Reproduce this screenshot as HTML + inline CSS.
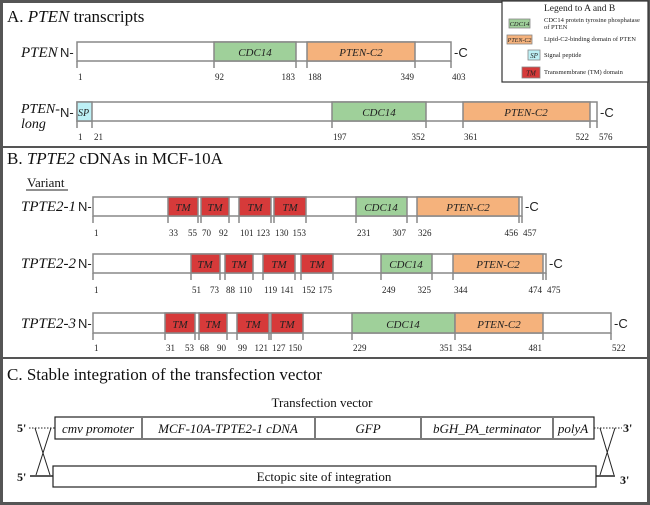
<!DOCTYPE html>
<html><head><meta charset="utf-8"><style>
html,body{margin:0;padding:0;background:#fff}
svg{display:block}
.n{font-family:"Liberation Serif",serif;font-size:9px;fill:#222}
.d{font-family:"Liberation Serif",serif;font-style:italic;font-size:11px;fill:#222}
.s{font-family:"Liberation Sans",sans-serif;font-size:13px;fill:#222}
.t{font-family:"Liberation Serif",serif;font-size:17px;fill:#111}
.l{font-family:"Liberation Serif",serif;font-style:italic;font-size:15px;fill:#111}
.g{font-family:"Liberation Serif",serif;font-size:6.5px;fill:#222}
.gd{font-family:"Liberation Serif",serif;font-style:italic;font-size:7px;fill:#222}
.v{font-family:"Liberation Serif",serif;font-style:italic;font-size:13px;fill:#111}
.m{font-family:"Liberation Serif",serif;font-size:13px;fill:#111}
.p{font-family:"Liberation Serif",serif;font-weight:bold;font-size:12px;fill:#111}
</style></head><body>
<svg width="650" height="505" viewBox="0 0 650 505" xmlns="http://www.w3.org/2000/svg">
<rect x="1.5" y="1.5" width="647" height="502" fill="#fff" stroke="#555" stroke-width="3"/>
<line x1="0" y1="147" x2="650" y2="147" stroke="#555" stroke-width="2"/>
<line x1="0" y1="358" x2="650" y2="358" stroke="#555" stroke-width="2"/>

<!-- A -->
<text x="7" y="22" class="t">A. <tspan font-style="italic">PTEN</tspan> transcripts</text>
<text x="21" y="57" class="l">PTEN</text>
<text x="60" y="57" class="s">N-</text>
<g stroke="#888" stroke-width="1.5">
<rect x="77" y="42" width="374" height="19" fill="#fff"/>
<rect x="214" y="42" width="82" height="19" fill="#9fd09a"/>
<rect x="307" y="42" width="108" height="19" fill="#f5b27c"/>
<path d="M77 61V68M214 61V68M296 61V68M307 61V68M415 61V68M451 61V68" fill="none"/>
</g>
<text x="454" y="57" class="s">-C</text>
<text x="255" y="56" class="d" text-anchor="middle">CDC14</text>
<text x="361" y="56" class="d" text-anchor="middle">PTEN-C2</text>
<g class="n"><text x="78" y="80">1</text><text x="215" y="80">92</text><text x="295" y="80" text-anchor="end">183</text><text x="308" y="80">188</text><text x="414" y="80" text-anchor="end">349</text><text x="452" y="80">403</text></g>

<text x="21" y="113" class="l" style="font-size:14px">PTEN-</text>
<text x="21" y="128" class="l" style="font-size:14px">long</text>
<text x="60" y="117" class="s">N-</text>
<g stroke="#888" stroke-width="1.5">
<rect x="77" y="102" width="520" height="19" fill="#fff"/>
<rect x="77" y="102" width="15" height="19" fill="#bdf0f5"/>
<rect x="332" y="102" width="94" height="19" fill="#9fd09a"/>
<rect x="463" y="102" width="127" height="19" fill="#f5b27c"/>
<path d="M77 121V128M92 121V128M332 121V128M426 121V128M463 121V128M590 121V128M597 121V128" fill="none"/>
</g>
<text x="78" y="116" class="d" style="font-size:10px">SP</text>
<text x="379" y="116" class="d" text-anchor="middle">CDC14</text>
<text x="526" y="116" class="d" text-anchor="middle">PTEN-C2</text>
<text x="600" y="117" class="s">-C</text>
<g class="n"><text x="78" y="140">1</text><text x="94" y="140">21</text><text x="333" y="140">197</text><text x="425" y="140" text-anchor="end">352</text><text x="464" y="140">361</text><text x="589" y="140" text-anchor="end">522</text><text x="599" y="140">576</text></g>

<!-- legend -->
<rect x="502" y="1" width="146" height="81" fill="#fff" stroke="#333" stroke-width="1.2"/>
<text x="544" y="11" class="n" style="font-size:9.5px">Legend to A and B</text>
<rect x="509" y="19" width="21" height="9" fill="#9fd09a" stroke="#888" stroke-width=".8"/>
<text x="519.5" y="26" class="gd" text-anchor="middle" style="font-size:6.5px">CDC14</text>
<text x="544" y="22" class="g">CDC14 protein tyrosine phosphatase</text>
<text x="544" y="29" class="g">of PTEN</text>
<rect x="507" y="35" width="25" height="9" fill="#f5b27c" stroke="#888" stroke-width=".8"/>
<text x="519.5" y="42" class="gd" text-anchor="middle" style="font-size:6px">PTEN-C2</text>
<text x="544" y="41" class="g">Lipid-C2-binding domain of PTEN</text>
<rect x="528" y="50" width="12" height="10" fill="#bdf0f5" stroke="#888" stroke-width=".8"/>
<text x="534" y="58" class="gd" text-anchor="middle">SP</text>
<text x="544" y="57" class="g">Signal peptide</text>
<rect x="522" y="67" width="18" height="11" fill="#d63a3a" stroke="#888" stroke-width=".8"/>
<text x="531" y="75.5" class="gd" text-anchor="middle">TM</text>
<text x="544" y="74" class="g">Transmembrane (TM) domain</text>

<!-- B -->
<text x="7" y="164" class="t">B. <tspan font-style="italic">TPTE2</tspan> cDNAs in MCF-10A</text>
<text x="27" y="187" class="m">Variant</text>
<line x1="26" y1="190" x2="68" y2="190" stroke="#222"/>

<text x="21" y="211" class="l">TPTE2-1</text>
<text x="78" y="211" class="s">N-</text>
<g stroke="#888" stroke-width="1.5">
<rect x="93" y="197" width="429" height="19" fill="#fff"/>
<rect x="168" y="197" width="30" height="19" fill="#d63a3a"/><rect x="201" y="197" width="28" height="19" fill="#d63a3a"/>
<rect x="239" y="197" width="32" height="19" fill="#d63a3a"/><rect x="274" y="197" width="32" height="19" fill="#d63a3a"/>
<rect x="356" y="197" width="51" height="19" fill="#9fd09a"/>
<rect x="417" y="197" width="102" height="19" fill="#f5b27c"/>
<path d="M93 216v7M168 216v7M198 216v7M201 216v7M229 216v7M239 216v7M271 216v7M274 216v7M306 216v7M356 216v7M407 216v7M417 216v7M519 216v7M522 216v7" fill="none"/>
</g>
<g class="d" text-anchor="middle"><text x="183" y="211">TM</text><text x="215" y="211">TM</text><text x="255" y="211">TM</text><text x="290" y="211">TM</text><text x="381" y="211">CDC14</text><text x="468" y="211">PTEN-C2</text></g>
<text x="525" y="211" class="s">-C</text>
<g class="n"><text x="94" y="236">1</text><text x="169" y="236">33</text><text x="197" y="236" text-anchor="end">55</text><text x="202" y="236">70</text><text x="228" y="236" text-anchor="end">92</text><text x="240" y="236">101</text><text x="270" y="236" text-anchor="end">123</text><text x="275" y="236">130</text><text x="306" y="236" text-anchor="end">153</text><text x="357" y="236">231</text><text x="406" y="236" text-anchor="end">307</text><text x="418" y="236">326</text><text x="518" y="236" text-anchor="end">456</text><text x="523" y="236">457</text></g>

<text x="21" y="268" class="l">TPTE2-2</text>
<text x="78" y="268" class="s">N-</text>
<g stroke="#888" stroke-width="1.5">
<rect x="93" y="254" width="453" height="19" fill="#fff"/>
<rect x="191" y="254" width="29" height="19" fill="#d63a3a"/><rect x="225" y="254" width="28" height="19" fill="#d63a3a"/>
<rect x="263" y="254" width="32" height="19" fill="#d63a3a"/><rect x="301" y="254" width="32" height="19" fill="#d63a3a"/>
<rect x="381" y="254" width="51" height="19" fill="#9fd09a"/>
<rect x="453" y="254" width="90" height="19" fill="#f5b27c"/>
<path d="M93 273v7M191 273v7M220 273v7M225 273v7M253 273v7M263 273v7M295 273v7M301 273v7M333 273v7M381 273v7M432 273v7M453 273v7M543 273v7M546 273v7" fill="none"/>
</g>
<g class="d" text-anchor="middle"><text x="205" y="268">TM</text><text x="239" y="268">TM</text><text x="279" y="268">TM</text><text x="317" y="268">TM</text><text x="406" y="268">CDC14</text><text x="498" y="268">PTEN-C2</text></g>
<text x="549" y="268" class="s">-C</text>
<g class="n"><text x="94" y="293">1</text><text x="192" y="293">51</text><text x="219" y="293" text-anchor="end">73</text><text x="226" y="293">88</text><text x="252" y="293" text-anchor="end">110</text><text x="264" y="293">119</text><text x="294" y="293" text-anchor="end">141</text><text x="302" y="293">152</text><text x="332" y="293" text-anchor="end">175</text><text x="382" y="293">249</text><text x="431" y="293" text-anchor="end">325</text><text x="454" y="293">344</text><text x="542" y="293" text-anchor="end">474</text><text x="547" y="293">475</text></g>

<text x="21" y="328" class="l">TPTE2-3</text>
<text x="78" y="328" class="s">N-</text>
<g stroke="#888" stroke-width="1.5">
<rect x="93" y="313" width="518" height="20" fill="#fff"/>
<rect x="165" y="313" width="30" height="20" fill="#d63a3a"/><rect x="199" y="313" width="28" height="20" fill="#d63a3a"/>
<rect x="237" y="313" width="32" height="20" fill="#d63a3a"/><rect x="271" y="313" width="32" height="20" fill="#d63a3a"/>
<rect x="352" y="313" width="103" height="20" fill="#9fd09a"/>
<rect x="455" y="313" width="88" height="20" fill="#f5b27c"/>
<path d="M93 333v7M165 333v7M195 333v7M199 333v7M227 333v7M237 333v7M269 333v7M271 333v7M303 333v7M352 333v7M455 333v7M543 333v7M611 333v7" fill="none"/>
</g>
<g class="d" text-anchor="middle"><text x="180" y="328">TM</text><text x="213" y="328">TM</text><text x="253" y="328">TM</text><text x="287" y="328">TM</text><text x="403" y="328">CDC14</text><text x="499" y="328">PTEN-C2</text></g>
<text x="614" y="328" class="s">-C</text>
<g class="n"><text x="94" y="351">1</text><text x="166" y="351">31</text><text x="194" y="351" text-anchor="end">53</text><text x="200" y="351">68</text><text x="226" y="351" text-anchor="end">90</text><text x="238" y="351">99</text><text x="268" y="351" text-anchor="end">121</text><text x="272" y="351">127</text><text x="302" y="351" text-anchor="end">150</text><text x="353" y="351">229</text><text x="453" y="351" text-anchor="end">351</text><text x="458" y="351">354</text><text x="542" y="351" text-anchor="end">481</text><text x="612" y="351">522</text></g>

<!-- C -->
<text x="7" y="380" class="t">C. Stable integration of the transfection vector</text>
<text x="322" y="407" class="m" text-anchor="middle">Transfection vector</text>
<rect x="55" y="417" width="539" height="22" fill="#fff" stroke="#222" stroke-width="1.2"/>
<path d="M142 418v20M315 418v20M421 418v20M553 418v20" stroke="#222" stroke-width="1.2"/>
<g class="v" text-anchor="middle"><text x="98" y="433">cmv promoter</text><text x="228" y="433">MCF-10A-TPTE2-1 cDNA</text><text x="368" y="433">GFP</text><text x="487" y="433">bGH_PA_terminator</text><text x="573" y="433">polyA</text></g>
<rect x="53" y="466" width="543" height="21" fill="#fff" stroke="#222" stroke-width="1.2"/>
<text x="324" y="481" class="m" text-anchor="middle">Ectopic site of integration</text>
<path d="M29 428H55M594 428H622" stroke="#222" stroke-dasharray="1.5,1.5"/>
<path d="M30 476H53M596 476H615" stroke="#222" stroke-width="1.5"/>
<path d="M35 428L50 475M51 428L36 475M600 428L614 475M615 428L600 475" stroke="#222"/>
<text x="17" y="432" class="p">5'</text>
<text x="17" y="481" class="p">5'</text>
<text x="623" y="432" class="p">3'</text>
<text x="620" y="484" class="p">3'</text>
</svg>
</body></html>
